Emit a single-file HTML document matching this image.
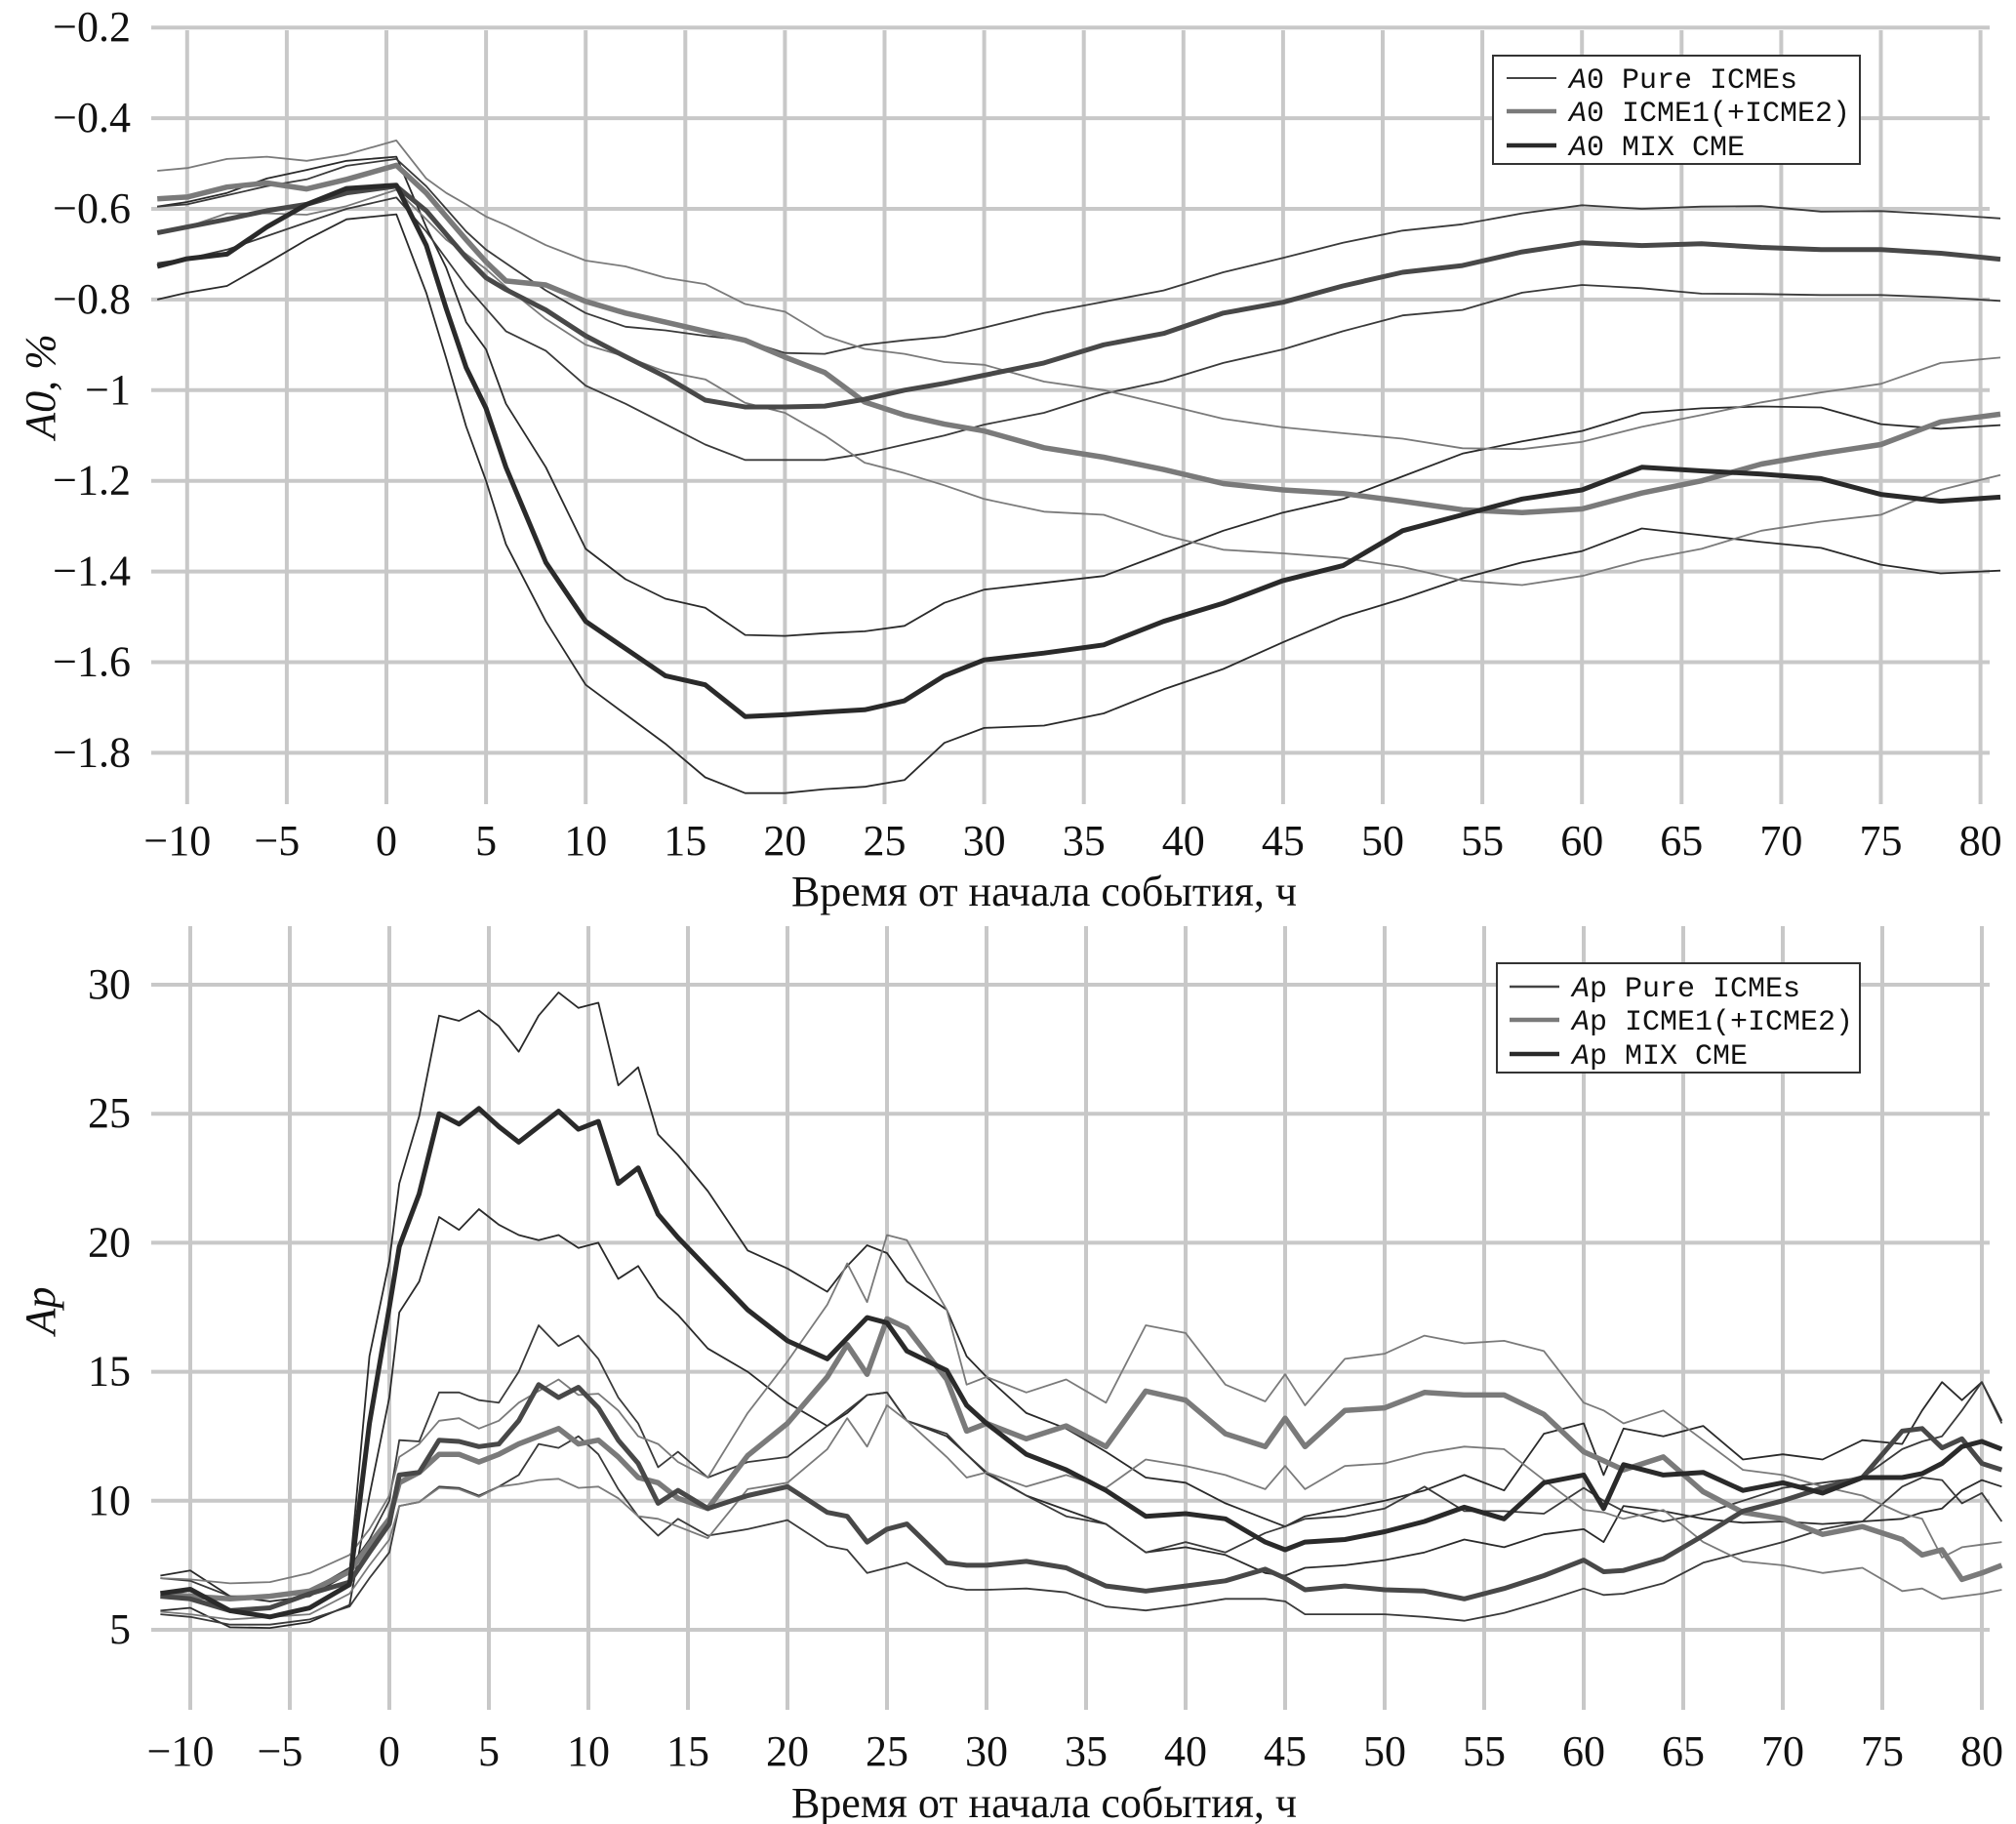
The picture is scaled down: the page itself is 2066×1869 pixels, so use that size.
<!DOCTYPE html>
<html><head><meta charset="utf-8">
<style>
html,body{margin:0;padding:0;background:#fff;}
svg{display:block;}
text{font-family:"Liberation Serif",serif;fill:#111;}
.mono{font-family:"Liberation Mono",monospace;font-size:30px;}
</style></head>
<body>
<svg id="chart" width="2066" height="1869" viewBox="0 0 2066 1869" xmlns="http://www.w3.org/2000/svg">
<g id="top"></g>
<g id="bot"></g>
</svg>
<script>
// ---------- Top panel data (A0, %) ----------
const hoursTop = [-11.5,-10,-8,-6,-4,-2,0.5,2,3,4,5,6,8,10,12,14,16,18,20,22,24,26,28,30,33,36,39,42,45,48,51,54,57,60,63,66,69,72,75,78,81];
const a0MixMean = [-0.727,-0.71,-0.70,-0.64,-0.59,-0.555,-0.548,-0.68,-0.82,-0.95,-1.04,-1.17,-1.38,-1.51,-1.57,-1.63,-1.65,-1.72,-1.716,-1.71,-1.705,-1.685,-1.63,-1.595,-1.58,-1.562,-1.51,-1.47,-1.42,-1.387,-1.31,-1.275,-1.24,-1.22,-1.17,-1.178,-1.185,-1.195,-1.23,-1.245,-1.236];
const a0MixUpper = [-0.595,-0.585,-0.565,-0.533,-0.514,-0.494,-0.485,-0.64,-0.73,-0.85,-0.91,-1.03,-1.17,-1.35,-1.417,-1.46,-1.48,-1.54,-1.542,-1.536,-1.532,-1.52,-1.469,-1.44,-1.425,-1.41,-1.36,-1.31,-1.27,-1.24,-1.19,-1.14,-1.113,-1.09,-1.05,-1.04,-1.036,-1.038,-1.075,-1.085,-1.077];
const a0MixLower = [-0.80,-0.785,-0.77,-0.72,-0.668,-0.623,-0.612,-0.785,-0.93,-1.08,-1.2,-1.34,-1.51,-1.65,-1.715,-1.78,-1.854,-1.889,-1.889,-1.88,-1.875,-1.86,-1.778,-1.745,-1.74,-1.713,-1.66,-1.615,-1.556,-1.5,-1.46,-1.415,-1.38,-1.355,-1.305,-1.32,-1.335,-1.348,-1.385,-1.404,-1.398];
const a0PureMean = [-0.653,-0.64,-0.623,-0.604,-0.59,-0.565,-0.55,-0.604,-0.656,-0.707,-0.752,-0.778,-0.823,-0.88,-0.926,-0.97,-1.022,-1.037,-1.037,-1.035,-1.02,-1.0,-0.985,-0.967,-0.94,-0.9,-0.875,-0.83,-0.806,-0.77,-0.74,-0.725,-0.695,-0.675,-0.681,-0.677,-0.685,-0.69,-0.69,-0.698,-0.711];
const a0PureUpper = [-0.595,-0.59,-0.57,-0.55,-0.535,-0.505,-0.49,-0.55,-0.6,-0.65,-0.69,-0.72,-0.78,-0.83,-0.86,-0.868,-0.88,-0.89,-0.918,-0.92,-0.9,-0.89,-0.882,-0.862,-0.83,-0.805,-0.78,-0.74,-0.708,-0.675,-0.648,-0.634,-0.61,-0.592,-0.6,-0.595,-0.594,-0.606,-0.605,-0.612,-0.621];
const a0PureLower = [-0.72,-0.71,-0.69,-0.66,-0.63,-0.6,-0.575,-0.65,-0.71,-0.77,-0.82,-0.87,-0.913,-0.99,-1.03,-1.075,-1.12,-1.154,-1.154,-1.154,-1.14,-1.12,-1.10,-1.076,-1.05,-1.008,-0.98,-0.94,-0.91,-0.87,-0.835,-0.823,-0.785,-0.768,-0.775,-0.787,-0.788,-0.79,-0.79,-0.795,-0.803];
const a0IcmeMean = [-0.578,-0.574,-0.552,-0.543,-0.556,-0.535,-0.504,-0.565,-0.617,-0.668,-0.717,-0.759,-0.768,-0.804,-0.83,-0.85,-0.87,-0.89,-0.927,-0.961,-1.026,-1.055,-1.075,-1.09,-1.127,-1.148,-1.175,-1.206,-1.22,-1.228,-1.245,-1.264,-1.27,-1.262,-1.227,-1.2,-1.163,-1.14,-1.12,-1.07,-1.053];
const a0IcmeUpper = [-0.516,-0.51,-0.49,-0.485,-0.494,-0.48,-0.449,-0.533,-0.565,-0.59,-0.617,-0.636,-0.68,-0.714,-0.727,-0.752,-0.766,-0.81,-0.827,-0.88,-0.909,-0.92,-0.938,-0.944,-0.981,-1.0,-1.031,-1.063,-1.082,-1.095,-1.107,-1.128,-1.13,-1.114,-1.081,-1.055,-1.027,-1.005,-0.986,-0.94,-0.928];
const a0IcmeLower = [-0.649,-0.64,-0.61,-0.61,-0.613,-0.594,-0.558,-0.623,-0.668,-0.70,-0.733,-0.772,-0.843,-0.9,-0.926,-0.959,-0.976,-1.028,-1.05,-1.10,-1.16,-1.183,-1.21,-1.24,-1.268,-1.275,-1.32,-1.352,-1.36,-1.37,-1.39,-1.42,-1.43,-1.41,-1.375,-1.35,-1.31,-1.29,-1.275,-1.22,-1.187];
const topYTicks = [-0.2,-0.4,-0.6,-0.8,-1,-1.2,-1.4,-1.6,-1.8];
const topYLabels = ["\u22120.2","\u22120.4","\u22120.6","\u22120.8","\u22121","\u22121.2","\u22121.4","\u22121.6","\u22121.8"];

// ---------- Bottom panel data (Ap) ----------
const hoursBot = [-11.5,-10,-8,-6,-4,-2,-1,0,0.5,1.5,2.5,3.5,4.5,5.5,6.5,7.5,8.5,9.5,10.5,11.5,12.5,13.5,14.5,16,18,20,22,23,24,25,26,28,29,30,32,34,36,38,40,42,44,45,46,48,50,52,54,56,58,60,61,62,64,66,68,70,72,74,76,77,78,79,80,81];
const apMixMean = [6.41,6.57,5.74,5.5,5.85,6.75,13.0,17.5,19.85,21.9,25.0,24.6,25.2,24.5,23.9,24.5,25.1,24.4,24.7,22.3,22.9,21.1,20.2,19.0,17.4,16.2,15.5,16.3,17.1,16.9,15.8,15.05,13.7,13.0,11.8,11.2,10.4,9.4,9.5,9.3,8.4,8.1,8.4,8.5,8.8,9.2,9.75,9.3,10.7,11.0,9.7,11.4,11.0,11.1,10.4,10.7,10.3,10.9,10.9,11.05,11.45,12.1,12.3,12.0];
const apMixUpper = [7.1,7.3,6.3,6.1,6.3,7.2,15.6,19.3,22.3,24.9,28.8,28.6,29.0,28.4,27.4,28.8,29.7,29.1,29.3,26.1,26.8,24.2,23.4,22.0,19.7,19.0,18.1,19.1,19.9,19.6,18.5,17.4,15.6,14.8,13.4,12.8,11.9,10.9,10.7,9.9,9.3,9.0,9.4,9.7,10.0,10.4,11.0,10.4,12.6,13.0,11.0,12.8,12.5,12.9,11.6,11.8,11.6,12.35,12.2,13.5,14.6,13.9,14.6,13.1];
const apMixLower = [5.74,5.85,5.1,5.07,5.3,5.96,10.2,14.0,17.3,18.5,21.0,20.5,21.3,20.7,20.3,20.1,20.3,19.8,20.0,18.6,19.1,17.9,17.2,15.9,15.0,13.8,12.9,13.4,14.1,14.2,13.1,12.5,11.8,11.05,10.2,9.65,9.1,8.0,8.2,7.9,7.2,7.1,7.4,7.5,7.7,8.0,8.5,8.2,8.7,8.9,8.4,9.8,9.6,9.3,9.15,9.2,9.1,9.2,9.3,9.55,9.7,10.4,10.8,10.55];
const apPureMean = [6.3,6.2,5.74,5.85,6.4,6.85,8.0,9.1,11.0,11.1,12.35,12.3,12.1,12.2,13.1,14.5,14.0,14.4,13.6,12.35,11.45,9.9,10.4,9.7,10.2,10.55,9.55,9.4,8.4,8.9,9.1,7.6,7.5,7.5,7.65,7.4,6.7,6.5,6.7,6.9,7.35,7.0,6.55,6.7,6.55,6.5,6.2,6.6,7.1,7.7,7.25,7.3,7.75,8.65,9.6,10.0,10.5,10.9,12.7,12.8,12.05,12.4,11.45,11.2];
const apPureUpper = [7.0,6.9,6.3,6.3,6.5,7.4,8.5,10.0,12.35,12.3,14.2,14.2,13.9,13.8,15.0,16.8,16.0,16.4,15.5,14.0,13.0,11.3,11.9,10.9,11.5,11.7,12.9,13.5,14.1,14.2,13.1,12.6,11.8,11.1,10.2,9.4,9.1,8.0,8.4,8.0,8.75,9.0,9.3,9.4,9.7,10.55,9.6,9.6,9.5,10.5,10.0,9.6,9.2,9.5,10.0,10.5,10.7,10.9,12.0,12.3,12.5,13.5,14.6,13.0];
const apPureLower = [5.6,5.5,5.2,5.2,5.4,5.9,7.0,8.0,9.8,9.95,10.55,10.5,10.2,10.55,11.0,12.2,12.05,12.5,11.8,10.45,9.4,8.65,9.3,8.65,8.9,9.25,8.25,8.1,7.2,7.4,7.6,6.7,6.55,6.55,6.6,6.45,5.9,5.75,5.95,6.2,6.2,6.1,5.6,5.6,5.6,5.5,5.35,5.65,6.1,6.6,6.35,6.4,6.8,7.6,8.0,8.4,8.9,9.2,10.55,10.9,10.8,9.9,10.3,9.2];
const apIcmeMean = [6.4,6.3,6.2,6.3,6.5,7.25,8.3,9.3,10.7,11.1,11.8,11.8,11.5,11.8,12.2,12.5,12.8,12.2,12.35,11.7,10.9,10.7,10.1,9.7,11.75,13.0,14.8,16.05,14.9,17.05,16.7,14.7,12.7,13.0,12.4,12.9,12.1,14.25,13.9,12.6,12.1,13.2,12.1,13.5,13.6,14.2,14.1,14.1,13.35,11.9,11.55,11.2,11.7,10.35,9.55,9.3,8.7,9.0,8.5,7.9,8.1,6.95,7.2,7.5];
const apIcmeUpper = [7.0,6.95,6.8,6.85,7.2,7.9,8.9,10.2,11.7,12.2,13.1,13.2,12.8,13.1,13.8,14.25,14.7,14.1,14.15,13.5,12.5,12.2,11.5,10.9,13.4,15.4,17.6,19.2,17.7,20.3,20.1,17.4,14.5,14.8,14.2,14.7,13.8,16.8,16.5,14.5,13.85,14.9,13.7,15.5,15.7,16.4,16.1,16.2,15.8,13.8,13.5,13.0,13.5,12.35,11.2,11.0,10.55,10.2,9.5,9.3,7.8,8.2,8.3,8.4];
const apIcmeLower = [5.7,5.6,5.4,5.5,5.6,6.4,7.5,8.5,9.8,9.95,10.5,10.45,10.15,10.55,10.65,10.8,10.85,10.5,10.55,10.1,9.4,9.3,9.0,8.55,10.45,10.7,12.0,13.2,12.1,13.7,13.1,11.7,10.9,11.1,10.55,11.0,10.5,11.6,11.35,11.0,10.45,11.35,10.45,11.35,11.45,11.85,12.1,12.0,10.8,9.65,9.55,9.3,9.65,8.4,7.65,7.5,7.2,7.4,6.5,6.6,6.2,6.3,6.4,6.55];
const botYTicks = [30,25,20,15,10,5];
const botYLabels = ["30","25","20","15","10","5"];

const xTicks = [-10,-5,0,5,10,15,20,25,30,35,40,45,50,55,60,65,70,75,80];
const xTickLabels = ["\u221210","\u22125","0","5","10","15","20","25","30","35","40","45","50","55","60","65","70","75","80"];

const NS = "http://www.w3.org/2000/svg";
function mk(tag, attrs, parent){
  const e = document.createElementNS(NS, tag);
  for (const k in attrs) e.setAttribute(k, attrs[k]);
  parent.appendChild(e);
  return e;
}

function panel(g, cfg){
  const xS = h => cfg.x0 + h * cfg.xk;
  const yS = v => cfg.yTop + (cfg.vTop - v) * cfg.yk;
  const grid = mk("g", {}, g);
  
  
  cfg.yTicks.forEach((v, i) => {
    const y = yS(v);
    const ln = mk("line", {x1:155, x2:2039, y1:y, y2:y, stroke:"#c8c8c8", "stroke-width":4}, grid);
    
    
    const t = mk("text", {x:134, y:y+14, "text-anchor":"end", "font-size":44}, g);
    t.textContent = cfg.yLabels[i];
    
    
  });
  xTicks.forEach((h, i) => {
    const x = xS(h);
    const ln = mk("line", {x1:x, x2:x, y1:cfg.vTopY, y2:cfg.vBotY, stroke:"#c8c8c8", "stroke-width":4}, grid);
    
    
    const t = mk("text", {x:x - (h < 0 ? 10 : 0), y:cfg.tickY, "text-anchor":"middle", "font-size":44}, g);
    t.textContent = xTickLabels[i];
    
    
  });
  const xt = mk("text", {x:1070, y:cfg.titleY, "text-anchor":"middle", "font-size":44}, g);
  xt.textContent = "Время от начала события, ч";
  
  
  const yt = mk("text", {x:0, y:0, "text-anchor":"middle", "font-size":44, "font-style":"italic", transform:"translate(56,"+cfg.yTitleY+") rotate(-90)"}, g);
  yt.textContent = cfg.yTitle;
  
  

  cfg.series.forEach(s => {
    const d = cfg.hours.map((h, i) => (i ? "L" : "M") + xS(h).toFixed(1) + " " + yS(s.vals[i]).toFixed(1)).join(" ");
    const p = mk("path", {d:d, fill:"none", stroke:s.color, "stroke-width":s.w, "stroke-linejoin":"round"}, g);
    
    
  });

  const L = cfg.legend;
  const lg = mk("g", {}, g);
  
  
  mk("rect", {x:L.x, y:L.y, width:L.w, height:L.h, fill:"#fff", stroke:"#333", "stroke-width":2}, lg);
  L.items.forEach((it, i) => {
    const ry = L.rows[i];
    const e = mk("g", {}, lg);
    
    
    mk("line", {x1:L.lx1, x2:L.lx2, y1:ry, y2:ry, stroke:it.color, "stroke-width":it.w}, e);
    const t = mk("text", {x:L.tx, y:ry+10, class:"mono"}, e);
    const a = mk("tspan", {"font-style":"italic"}, t); a.textContent = cfg.sym[0];
    const b = mk("tspan", {}, t); b.textContent = cfg.sym.slice(1) + " " + it.label;
  });
}

panel(document.getElementById("top"), {
  prefix:"a0", x0:396, xk:20.42, yTop:28.2, vTop:-0.2, yk:464.5,
  vTopY:31, vBotY:824, tickY:876, titleY:928, yTitle:"A0, %", yTitleY:396,
  yTicks:topYTicks, yLabels:topYLabels, hours:hoursTop, sym:"A0",
  series:[
    {name:"a0-mix-upper", vals:a0MixUpper, color:"#2a2a2a", w:1.8},
    {name:"a0-mix-lower", vals:a0MixLower, color:"#2a2a2a", w:1.8},
    {name:"a0-pure-upper", vals:a0PureUpper, color:"#3a3a3a", w:1.8},
    {name:"a0-pure-lower", vals:a0PureLower, color:"#3a3a3a", w:1.8},
    {name:"a0-icme-upper", vals:a0IcmeUpper, color:"#7a7a7a", w:1.8},
    {name:"a0-icme-lower", vals:a0IcmeLower, color:"#7a7a7a", w:1.8},
    {name:"a0-icme-mean", vals:a0IcmeMean, color:"#7a7a7a", w:5.5},
    {name:"a0-pure-mean", vals:a0PureMean, color:"#484848", w:5},
    {name:"a0-mix-mean", vals:a0MixMean, color:"#2a2a2a", w:5}
  ],
  legend:{x:1530, y:57, w:376, h:111, rows:[80,114,149], lx1:1544, lx2:1595, tx:1608,
    items:[{label:"Pure ICMEs", color:"#444", w:2},{label:"ICME1(+ICME2)", color:"#7a7a7a", w:4.5},{label:"MIX CME", color:"#2a2a2a", w:4.5}]}
});

panel(document.getElementById("bot"), {
  prefix:"ap", x0:399, xk:20.4, yTop:1009, vTop:30, yk:26.44,
  vTopY:949, vBotY:1752, tickY:1809, titleY:1862, yTitle:"Ap", yTitleY:1343,
  yTicks:botYTicks, yLabels:botYLabels, hours:hoursBot, sym:"Ap",
  series:[
    {name:"ap-mix-upper", vals:apMixUpper, color:"#2a2a2a", w:1.8},
    {name:"ap-mix-lower", vals:apMixLower, color:"#2a2a2a", w:1.8},
    {name:"ap-pure-upper", vals:apPureUpper, color:"#3a3a3a", w:1.8},
    {name:"ap-pure-lower", vals:apPureLower, color:"#3a3a3a", w:1.8},
    {name:"ap-icme-upper", vals:apIcmeUpper, color:"#7a7a7a", w:1.8},
    {name:"ap-icme-lower", vals:apIcmeLower, color:"#7a7a7a", w:1.8},
    {name:"ap-icme-mean", vals:apIcmeMean, color:"#7a7a7a", w:5.5},
    {name:"ap-pure-mean", vals:apPureMean, color:"#484848", w:5},
    {name:"ap-mix-mean", vals:apMixMean, color:"#2a2a2a", w:5}
  ],
  legend:{x:1534, y:987, w:372, h:112, rows:[1011,1045,1080], lx1:1547, lx2:1598, tx:1611,
    items:[{label:"Pure ICMEs", color:"#444", w:2.5},{label:"ICME1(+ICME2)", color:"#7a7a7a", w:4.5},{label:"MIX CME", color:"#2a2a2a", w:4.5}]}
});
</script>
</body></html>
